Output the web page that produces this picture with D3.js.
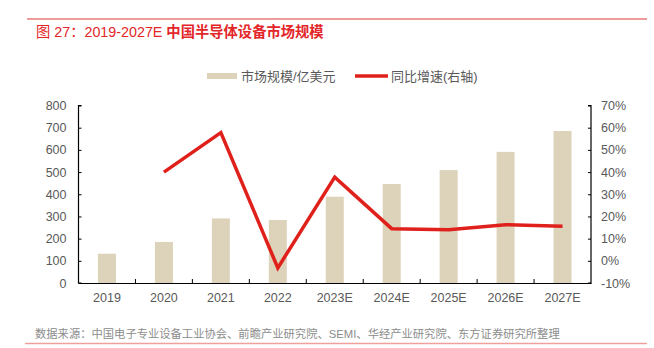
<!DOCTYPE html>
<html>
<head>
<meta charset="utf-8">
<script src="https://cdn.jsdelivr.net/npm/d3@7/dist/d3.min.js"></script>
<style>
  html, body { margin: 0; padding: 0; background: #fff; }
  svg { display: block; font-family: "Liberation Sans", Arial, "Noto Sans CJK SC", sans-serif; }
</style>
</head>
<body>
<svg id="chart" width="654" height="348"></svg>
<script>
// Market size (100M USD) and YoY growth (%)
const years = ["2019", "2020", "2021", "2022", "2023E", "2024E", "2025E", "2026E", "2027E"];
const marketSize = [132, 185, 291, 284, 389, 446, 509, 591, 685];
const growth = [null, 40.0, 57.8, -3.2, 37.7, 14.5, 14.0, 16.3, 15.6];
const leftTicks = [0, 100, 200, 300, 400, 500, 600, 700, 800];
const rightTicks = [-10, 0, 10, 20, 30, 40, 50, 60, 70];

const titleText = "图 27：2019-2027E ";
const titleBold = "中国半导体设备市场规模";
const sourceText = "数据来源：中国电子专业设备工业协会、前瞻产业研究院、SEMI、华经产业研究院、东方证券研究所整理";
const legendBar = "市场规模/亿美元";
const legendLine = "同比增速(右轴)";

const svg = d3.select("#chart");
// Latin glyphs from Liberation Sans, Chinese glyphs fall back to Noto Sans CJK
const mixedFont = '"Liberation Sans", Arial, "Noto Sans CJK SC", sans-serif';

const plot = { left: 78.5, right: 591, top: 105.5, bottom: 283 };

const x = d3.scaleBand().domain(years).range([plot.left, plot.right]).paddingInner(0).paddingOuter(0);
const yL = d3.scaleLinear().domain([0, 800]).range([plot.bottom, plot.top]);
const yR = d3.scaleLinear().domain([-10, 70]).range([plot.bottom, plot.top]);

// Header rule and title
svg.append("line").attr("x1", 27).attr("x2", 647).attr("y1", 19).attr("y2", 19)
  .attr("stroke", "#e77b78").attr("stroke-width", 1.5);
const title = svg.append("text").attr("x", 36).attr("y", 36.5)
  .attr("fill", "#e3262a").style("font-size", "14.3px").style("font-family", mixedFont);
title.append("tspan").text(titleText);
title.append("tspan").attr("font-weight", "bold").text(titleBold);

// Footer
svg.append("text").attr("x", 35).attr("y", 338)
  .attr("fill", "#8c8c8c").style("font-size", "11.3px").style("font-family", mixedFont)
  .text(sourceText);
svg.append("line").attr("x1", 25).attr("x2", 647).attr("y1", 343.5).attr("y2", 343.5)
  .attr("stroke", "#f0a09c").attr("stroke-width", 1.5);

// Legend
svg.append("rect").attr("x", 207).attr("y", 73).attr("width", 30).attr("height", 6).attr("fill", "#ddd3bb");
svg.append("text").attr("x", 241).attr("y", 80.5).attr("fill", "#595959")
  .style("font-size", "13px").style("font-family", mixedFont).text(legendBar);
svg.append("line").attr("x1", 355).attr("x2", 388).attr("y1", 76).attr("y2", 76)
  .attr("stroke", "#e0201b").attr("stroke-width", 3.5);
svg.append("text").attr("x", 391).attr("y", 80.5).attr("fill", "#595959")
  .style("font-size", "13px").style("font-family", mixedFont).text(legendLine);

// Bars
const barW = 18;
svg.append("g").selectAll("rect").data(years).join("rect")
  .attr("x", d => x(d) + x.bandwidth() / 2 - barW / 2)
  .attr("width", barW)
  .attr("y", (d, i) => yL(marketSize[i]))
  .attr("height", (d, i) => plot.bottom - yL(marketSize[i]))
  .attr("fill", "#ddd3bb");

// Growth line
const linePts = years.map((d, i) => ({ d, v: growth[i] })).filter(p => p.v !== null);
svg.append("path").datum(linePts)
  .attr("fill", "none").attr("stroke", "#e0201b").attr("stroke-width", 3.5)
  .attr("stroke-linejoin", "miter")
  .attr("d", d3.line().x(p => x(p.d) + x.bandwidth() / 2).y(p => yR(p.v)));

// Axes
const axisColor = "#000";
const labelColor = "#595959";

const gL = svg.append("g").attr("transform", `translate(${plot.left},0)`)
  .call(d3.axisRight(yL).tickValues(leftTicks).tickSize(3).tickFormat(d3.format("d")));
gL.selectAll("text").attr("x", -12).attr("text-anchor", "end");

const gR = svg.append("g").attr("transform", `translate(${plot.right},0)`)
  .call(d3.axisLeft(yR).tickValues(rightTicks).tickSize(3).tickFormat(d => d + "%"));
gR.selectAll("text").attr("x", 10).attr("text-anchor", "start");

const gX = svg.append("g").attr("transform", `translate(0,${plot.bottom})`)
  .call(d3.axisBottom(x).tickSize(0));
gX.selectAll("text").attr("dy", 0).attr("y", 19);
// category boundary ticks pointing up
gX.selectAll(".sep").data(years.slice(1)).join("line").attr("class", "sep")
  .attr("x1", d => x(d)).attr("x2", d => x(d)).attr("y1", 0).attr("y2", -4)
  .attr("stroke", axisColor);

[gL, gR, gX].forEach(g => {
  g.select(".domain").attr("stroke", axisColor).attr("stroke-width", 1.2);
  g.selectAll(".tick line").attr("stroke", axisColor);
  g.selectAll("text").attr("fill", labelColor).style("font-size", "12.5px")
    .style("font-family", '"Liberation Sans", Arial, sans-serif');
});
// outer ticks of the vertical axes (d3 draws them as part of the domain path)
gL.select(".domain").attr("d", `M3,${plot.top}H0V${plot.bottom}H3`);
gR.select(".domain").attr("d", `M-3,${plot.top}H0V${plot.bottom}H-3`);
</script>
</body>
</html>
